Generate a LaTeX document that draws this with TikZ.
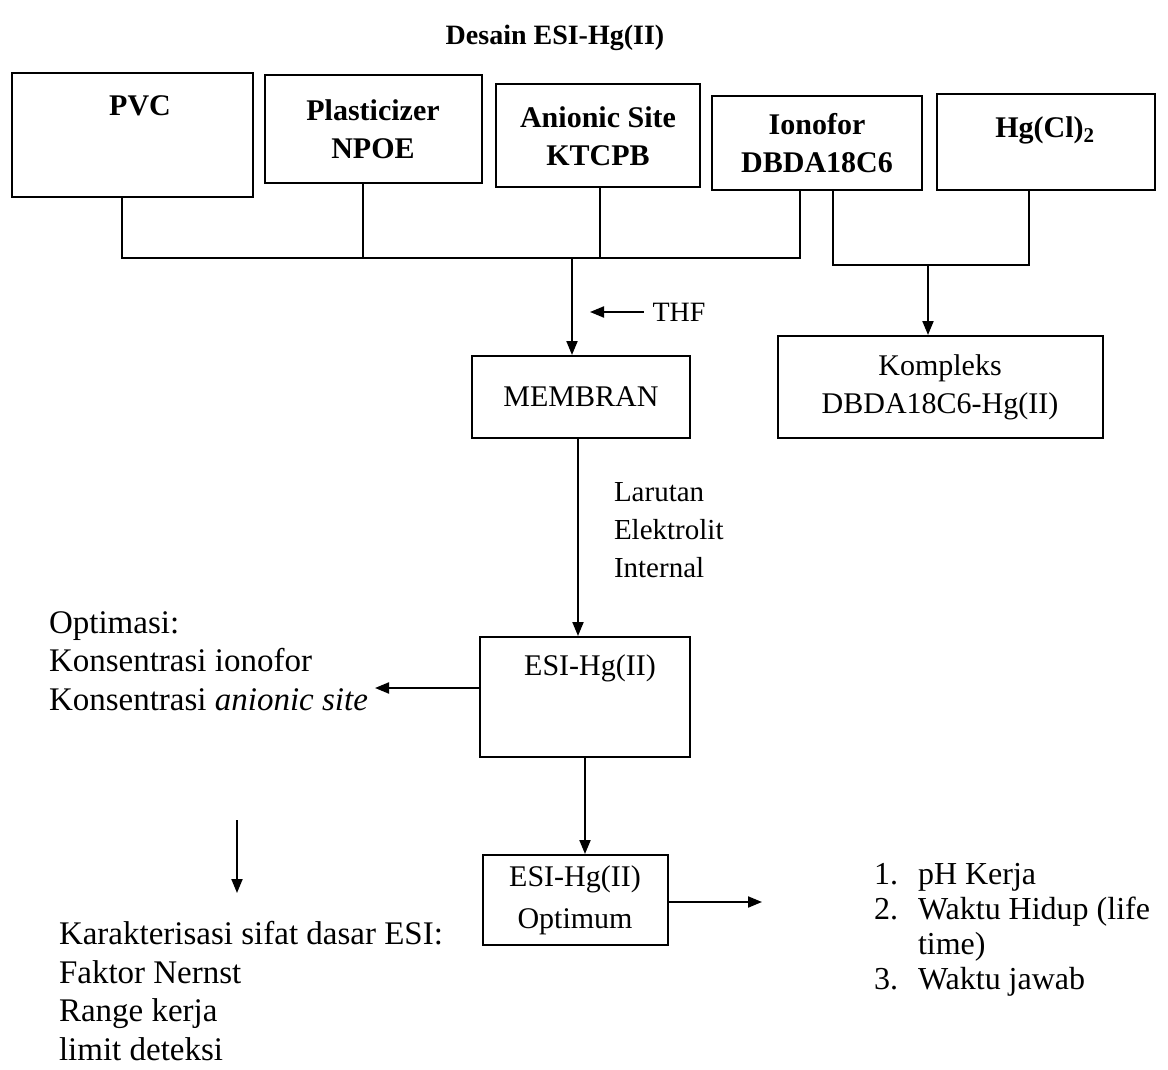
\documentclass[tikz,border=0pt]{standalone}
\usepackage{fontspec}
\setmainfont{Liberation Serif}
\usetikzlibrary{arrows.meta}
\begin{document}
\begin{tikzpicture}[x=1pt,y=-1pt,line width=2pt,
  box/.style={draw,line width=2pt,inner sep=0pt,align=center,font=\fontsize{30}{38}\selectfont},
  bbox/.style={box,font=\fontsize{30}{38}\selectfont\bfseries},
  btxt/.style={inner sep=0pt,align=center,font=\fontsize{30}{38}\selectfont\bfseries},
  ctxt/.style={inner sep=0pt,align=center,font=\fontsize{30}{38}\selectfont},
  txt/.style={inner sep=0pt,align=left,font=\fontsize{33}{38.5}\selectfont},
  arr/.style={-{Triangle[length=14pt,width=11pt]}}]
\useasboundingbox (0,0) rectangle (1168,1070);

% title
\node[inner sep=0pt,font=\fontsize{28}{34}\selectfont\bfseries] (title) at (555,38) {Desain ESI-Hg(II)};

% top boxes
\node[bbox,minimum width=241,minimum height=124] (pvc) at (132,135) {};
\node[btxt] (pvcT) at (140,106) {PVC};
\node[bbox,minimum width=217,minimum height=108] (plast) at (373,129) {Plasticizer\\NPOE};
\node[bbox,minimum width=204,minimum height=103] (anion) at (598,136) {Anionic Site\\KTCPB};
\node[bbox,minimum width=210,minimum height=94] (iono) at (817,143) {Ionofor\\DBDA18C6};
\node[bbox,minimum width=218,minimum height=96] (hg) at (1046,142) {};
\node[btxt] (hgT) at (1045,130) {Hg(Cl)\textsubscript{2}};

% brackets
\coordinate (b1) at (122,258);
\coordinate (b2) at (363,258);
\coordinate (b3) at (600,258);
\coordinate (b4) at (800,258);
\coordinate (m)  at (572,258);
\draw (pvc.south -| b1) -- (b1) -- (b4) -- (iono.south -| b4);
\draw (plast.south -| b2) -- (b2);
\draw (anion.south -| b3) -- (b3);

\coordinate (c1) at (833,265);
\coordinate (c2) at (1029,265);
\coordinate (c3) at (928,265);
\draw (iono.south -| c1) -- (c1) -- (c2) -- (hg.south -| c2);

% middle boxes
\node[box,minimum width=218,minimum height=82] (membran) at (581,397) {MEMBRAN};
\node[box,minimum width=325,minimum height=102] (kompleks) at (940,387) {Kompleks\\DBDA18C6-Hg(II)};

\draw[arr] (m) -- (membran.north -| m);
\draw[arr] (c3) -- (kompleks.north -| c3);

% THF
\node[inner sep=0pt,font=\fontsize{28}{34}\selectfont] (thf) at (679,312) {THF};
\coordinate (thfend) at (590,312);
\draw[arr] (thf.west) ++(-8,0) -- (thfend);

% ESI box
\node[box,minimum width=210,minimum height=120] (esi) at (585,697) {};
\node[ctxt] (esiT) at (590,668) {ESI-Hg(II)};
\coordinate (mx) at (578,0);
\draw[arr] (membran.south -| mx) -- (esi.north -| mx);
\node[inner sep=0pt,align=left,anchor=west,font=\fontsize{29}{38}\selectfont] (larutan) at (613,530) {Larutan\\Elektrolit\\Internal};

% optimasi
\node[txt,anchor=west] (optim) at (48,661) {Optimasi:\\Konsentrasi ionofor\\Konsentrasi \textit{anionic site}};
\coordinate (optend) at (375,688);
\draw[arr] (esi.west |- optend) -- (optend);

% optimum box
\node[box,minimum width=185,minimum height=90] (opt) at (575,900) {ESI-Hg(II)\\[4pt]Optimum};
\coordinate (ox) at (585,0);
\draw[arr] (esi.south -| ox) -- (opt.north -| ox);
\coordinate (listend) at (762,902);
\draw[arr] (opt.east |- listend) -- (listend);

% list
\node[inner sep=0pt,anchor=west,font=\fontsize{32}{35}\selectfont] (list) at (873,930)
  {\begin{tabular}{@{}l@{\hspace{20pt}}l@{}}1. & pH Kerja\\ 2. & Waktu Hidup (life\\ & time)\\ 3. & Waktu jawab\end{tabular}};

% karakterisasi
\coordinate (ka) at (237,820);
\coordinate (kb) at (237,893);
\draw[arr] (ka) -- (kb);
\node[txt,anchor=west] (karak) at (58,991) {Karakterisasi sifat dasar ESI:\\Faktor Nernst\\Range kerja\\limit deteksi};
\end{tikzpicture}
\end{document}
